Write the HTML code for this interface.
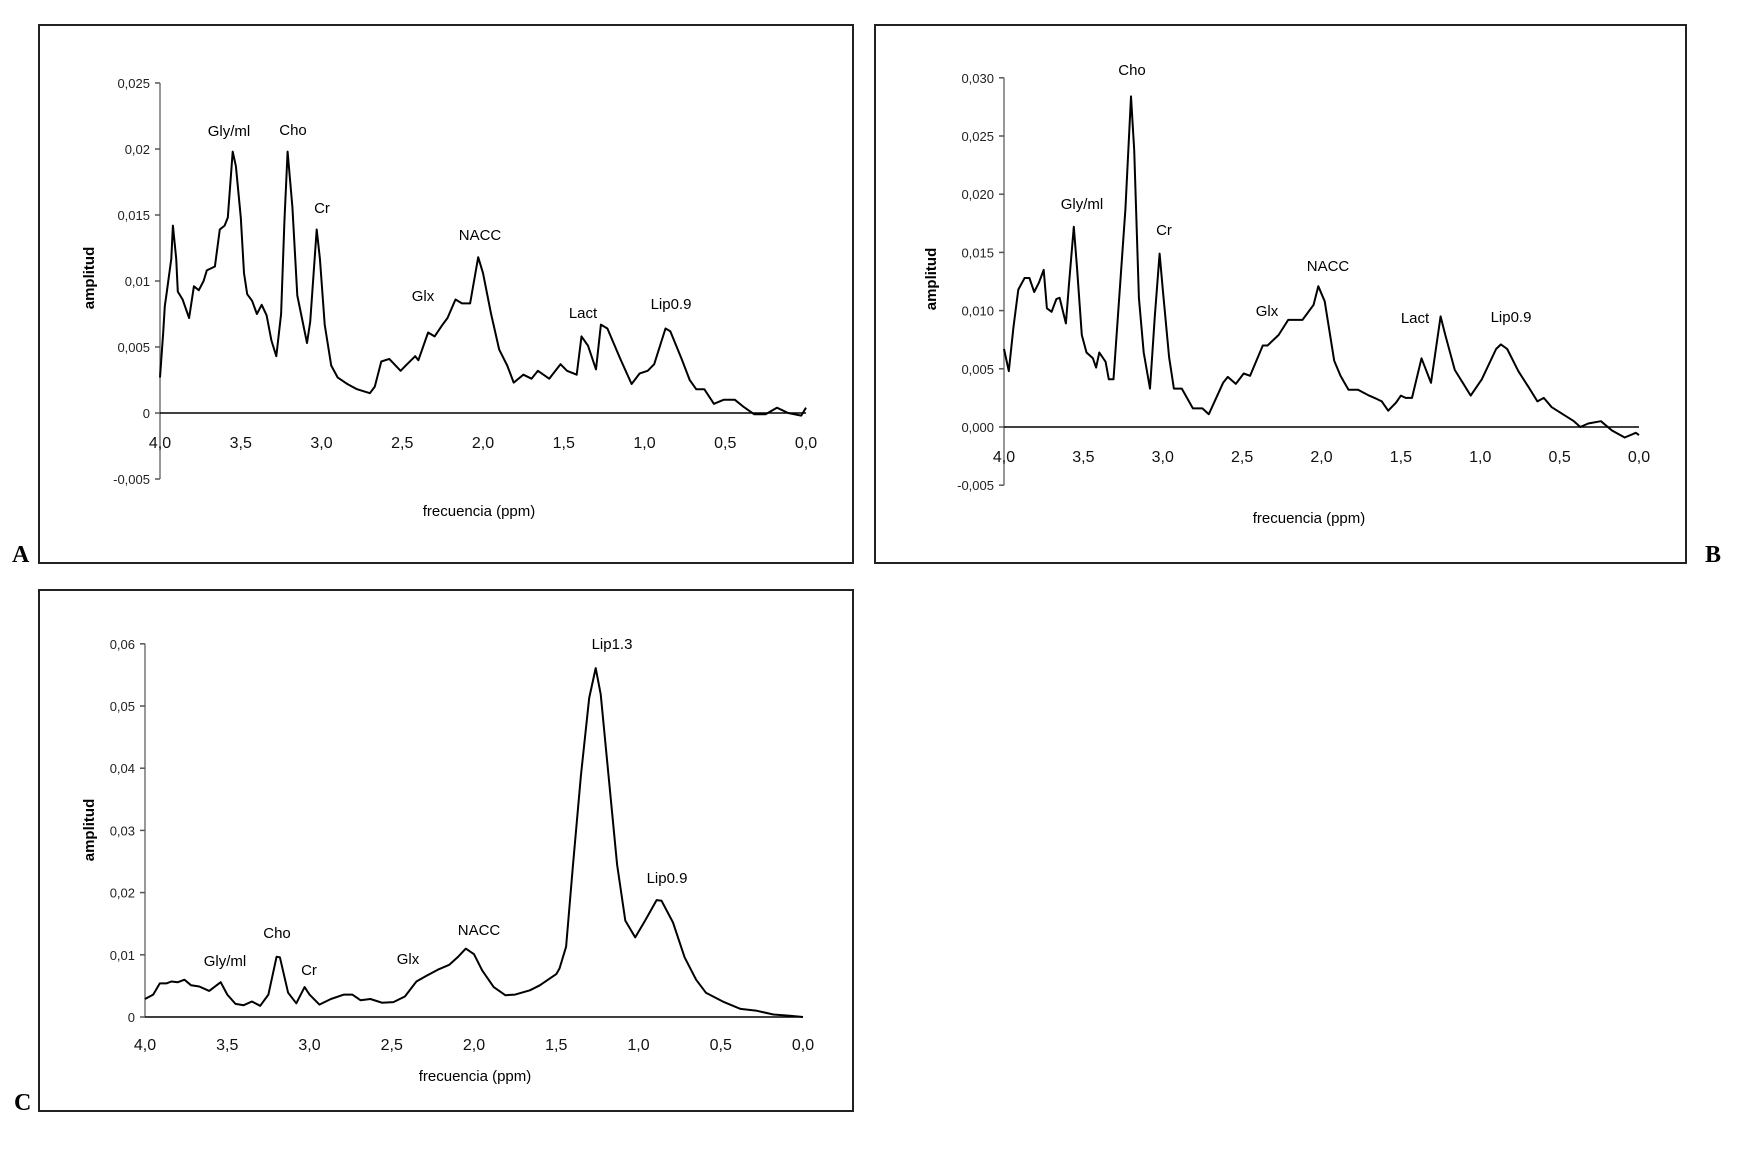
<!DOCTYPE html>
<html><head><meta charset="utf-8"><style>
body{margin:0;background:#fff;}
svg text{font-family:"Liberation Sans",Arial,sans-serif;}
</style></head><body>
<svg id="s" width="1738" height="1147" viewBox="0 0 1738 1147" xmlns="http://www.w3.org/2000/svg">
<rect width="1738" height="1147" fill="#fff"/>
</svg>
<script>
// Panel A data
const ppmA=[4.0,3.98,3.97,3.96,3.93,3.92,3.90,3.89,3.86,3.82,3.79,3.76,3.73,3.71,3.66,3.63,3.60,3.58,3.55,3.53,3.50,3.48,3.46,3.43,3.40,3.37,3.34,3.31,3.28,3.25,3.23,3.21,3.18,3.15,3.09,3.07,3.03,3.01,2.98,2.94,2.90,2.84,2.78,2.70,2.67,2.63,2.58,2.51,2.47,2.42,2.40,2.34,2.30,2.25,2.22,2.17,2.13,2.08,2.03,2.00,1.95,1.90,1.85,1.81,1.75,1.70,1.66,1.59,1.52,1.48,1.42,1.39,1.35,1.30,1.27,1.23,1.15,1.08,1.03,0.98,0.94,0.87,0.84,0.77,0.72,0.68,0.63,0.57,0.51,0.44,0.39,0.32,0.25,0.18,0.11,0.03,0.0];
const ampA=[0.0027,0.0061,0.0081,0.009,0.0117,0.0142,0.0117,0.0092,0.0086,0.0072,0.0096,0.0093,0.010,0.0108,0.0111,0.0139,0.0142,0.0148,0.0198,0.0187,0.0148,0.0106,0.009,0.0085,0.0075,0.0082,0.0074,0.0055,0.0043,0.0075,0.0145,0.0198,0.0156,0.0089,0.0053,0.0069,0.0139,0.0117,0.0067,0.0036,0.0027,0.0022,0.0018,0.0015,0.002,0.0039,0.0041,0.0032,0.0037,0.0043,0.004,0.0061,0.0058,0.0067,0.0072,0.0086,0.0083,0.0083,0.0118,0.0106,0.0075,0.0048,0.0036,0.0023,0.0029,0.0026,0.0032,0.0026,0.0037,0.0032,0.0029,0.0058,0.0051,0.0033,0.0067,0.0064,0.0041,0.0022,0.003,0.0032,0.0037,0.0064,0.0062,0.0041,0.0025,0.0018,0.0018,0.0007,0.001,0.001,0.0005,-0.0001,-0.0001,0.0004,0,-0.0002,0.0004];
const yTicksA=[0.025,0.02,0.015,0.01,0.005,0,-0.005];
const yLabelsA=["0,025","0,02","0,015","0,01","0,005","0","-0,005"];
// Panel B data
const ppmB=[4.0,3.97,3.94,3.91,3.87,3.84,3.81,3.78,3.75,3.73,3.70,3.67,3.65,3.61,3.59,3.56,3.54,3.51,3.48,3.44,3.42,3.40,3.36,3.34,3.31,3.235,3.20,3.18,3.15,3.12,3.08,3.05,3.02,3.00,2.96,2.93,2.88,2.81,2.75,2.71,2.62,2.59,2.54,2.49,2.45,2.37,2.34,2.27,2.21,2.12,2.05,2.02,1.98,1.92,1.88,1.83,1.77,1.70,1.65,1.62,1.58,1.53,1.50,1.47,1.43,1.37,1.31,1.25,1.22,1.16,1.11,1.06,0.99,0.90,0.87,0.83,0.76,0.69,0.64,0.60,0.55,0.48,0.41,0.37,0.32,0.24,0.17,0.09,0.02,0.0];
const ampB=[0.0067,0.0048,0.0086,0.0118,0.0128,0.0128,0.0116,0.0124,0.0135,0.0102,0.0099,0.011,0.0111,0.0089,0.0124,0.0172,0.0137,0.0079,0.0064,0.0059,0.0051,0.0064,0.0056,0.0041,0.0041,0.0187,0.0284,0.0238,0.0111,0.0064,0.0033,0.0095,0.0149,0.0118,0.006,0.0033,0.0033,0.0016,0.0016,0.0011,0.0038,0.0043,0.0037,0.0046,0.0044,0.007,0.007,0.0079,0.0092,0.0092,0.0105,0.0121,0.0108,0.0057,0.0044,0.0032,0.0032,0.0027,0.0024,0.0022,0.0014,0.0021,0.0027,0.0025,0.0025,0.0059,0.0038,0.0095,0.0079,0.0049,0.0038,0.0027,0.0041,0.0067,0.0071,0.0067,0.0048,0.0033,0.0022,0.0025,0.0017,0.0011,0.0005,0,0.0003,0.0005,-0.0003,-0.0009,-0.0005,-0.0007];
const yTicksB=[0.03,0.025,0.02,0.015,0.01,0.005,0,-0.005];
const yLabelsB=["0,030","0,025","0,020","0,015","0,010","0,005","0,000","-0,005"];
// Panel C data
const ppmC=[4.0,3.95,3.91,3.87,3.84,3.80,3.76,3.72,3.67,3.61,3.54,3.50,3.45,3.40,3.35,3.30,3.25,3.20,3.18,3.13,3.08,3.03,3.00,2.94,2.87,2.79,2.74,2.69,2.63,2.56,2.49,2.42,2.35,2.29,2.22,2.15,2.10,2.05,2.00,1.95,1.88,1.81,1.75,1.66,1.60,1.50,1.48,1.44,1.40,1.35,1.30,1.26,1.23,1.18,1.13,1.08,1.02,0.96,0.89,0.86,0.79,0.72,0.65,0.59,0.48,0.38,0.28,0.18,0.08,0.0];
const ampC=[0.0029,0.0036,0.0054,0.0054,0.0057,0.0056,0.006,0.0051,0.0049,0.0042,0.0056,0.0036,0.0021,0.0019,0.0025,0.0018,0.0036,0.0097,0.0096,0.0039,0.0022,0.0048,0.0036,0.002,0.0029,0.0036,0.0036,0.0027,0.0029,0.0023,0.0024,0.0033,0.0057,0.0066,0.0076,0.0084,0.0096,0.011,0.0101,0.0075,0.0048,0.0035,0.0036,0.0043,0.0051,0.0069,0.0078,0.0113,0.0239,0.0388,0.0513,0.0561,0.0519,0.0382,0.0245,0.0155,0.0128,0.0155,0.0188,0.0187,0.0152,0.0096,0.006,0.0039,0.0024,0.0013,0.001,0.0004,0.0002,0];
const yTicksC=[0.06,0.05,0.04,0.03,0.02,0.01,0];
const yLabelsC=["0,06","0,05","0,04","0,03","0,02","0,01","0"];
const xTicks=[4,3.5,3,2.5,2,1.5,1,0.5,0];
const xLabels=["4,0","3,5","3,0","2,5","2,0","1,5","1,0","0,5","0,0"];

const NS="http://www.w3.org/2000/svg";
const svg=document.getElementById('s');
function mk(tag,attrs,parent,text){const e=document.createElementNS(NS,tag);for(const k in attrs)e.setAttribute(k,attrs[k]);if(text!==undefined)e.textContent=text;(parent||svg).appendChild(e);return e;}

function panel(cfg){
  const g=mk('g',{});
  
  
  const fr=mk('rect',{x:cfg.box[0],y:cfg.box[1],width:cfg.box[2]-cfg.box[0],height:cfg.box[3]-cfg.box[1],fill:'none',stroke:'#222','stroke-width':2},g);
  
  
  const pl=mk('text',{x:cfg.letter[0],y:cfg.letter[1],'font-size':24,'font-weight':'bold',style:'font-family:"Liberation Serif",serif'},g,cfg.id.toUpperCase());
  
  
  const X=v=>cfg.x0+(4-v)/4*(cfg.x1-cfg.x0);
  const Y=v=>cfg.yZero-v/cfg.yStep*cfg.yStepPx;
  const yMin=Math.min(...cfg.yTicks),yMax=Math.max(...cfg.yTicks);
  const ya=mk('line',{x1:cfg.x0,x2:cfg.x0,y1:Y(yMax),y2:Y(yMin),stroke:'#777','stroke-width':1.5},g);
  
  
  cfg.yTicks.forEach((t,i)=>{
    mk('line',{x1:cfg.x0-5,x2:cfg.x0,y1:Y(t),y2:Y(t),stroke:'#555','stroke-width':1.5},g);
    const tl=mk('text',{x:cfg.x0-10,y:Y(t)+5,'font-size':13,'text-anchor':'end',fill:'#222'},g,cfg.yLabels[i]);
    
    
  });
  const xa=mk('line',{x1:cfg.x0,x2:X(0),y1:Y(0),y2:Y(0),stroke:'#000','stroke-width':1.5},g);
  
  
  xTicks.forEach((t,i)=>{
    const tl=mk('text',{x:X(t),y:cfg.xLabY,'font-size':16,'text-anchor':'middle',fill:'#111'},g,xLabels[i]);
    
    
  });
  const xt=mk('text',{x:cfg.xTitle[0],y:cfg.xTitle[1],'font-size':15,'text-anchor':'middle'},g,'frecuencia (ppm)');
  
  
  const yt=mk('text',{x:cfg.yTitle[0],y:cfg.yTitle[1],'font-size':15,'font-weight':'bold','text-anchor':'middle',transform:`rotate(-90 ${cfg.yTitle[0]} ${cfg.yTitle[1]})`},g,'amplitud');
  
  
  const d=cfg.ppm.map((p,i)=>(i?'L':'M')+X(p).toFixed(1)+','+Y(cfg.amp[i]).toFixed(1)).join('');
  const ln=mk('path',{d:d,fill:'none',stroke:'#000','stroke-width':2,'stroke-linejoin':'round'},g);
  
  
  cfg.peaks.forEach(pk=>{
    const t=mk('text',{x:pk[1],y:pk[2],'font-size':15,'text-anchor':'middle'},g,pk[0]);
    
    
  });
}

panel({id:'a',box:[39,25,853,563],letter:[12,562],x0:160,x1:806,yZero:413,yStep:0.005,yStepPx:66,yTicks:yTicksA,yLabels:yLabelsA,xLabY:448,xTitle:[479,516],yTitle:[94,278],ppm:ppmA,amp:ampA,
  peaks:[['Gly/ml',229,136],['Cho',293,135],['Cr',322,213],['Glx',423,301],['NACC',480,240],['Lact',583,318],['Lip0.9',671,309]]});
panel({id:'b',box:[875,25,1686,563],letter:[1705,562],x0:1004,x1:1639,yZero:427,yStep:0.005,yStepPx:58.2,yTicks:yTicksB,yLabels:yLabelsB,xLabY:462,xTitle:[1309,523],yTitle:[936,279],ppm:ppmB,amp:ampB,
  peaks:[['Cho',1132,75],['Gly/ml',1082,209],['Cr',1164,235],['Glx',1267,316],['NACC',1328,271],['Lact',1415,323],['Lip0.9',1511,322]]});
panel({id:'c',box:[39,590,853,1111],letter:[14,1110],x0:145,x1:803,yZero:1017,yStep:0.01,yStepPx:62.2,yTicks:yTicksC,yLabels:yLabelsC,xLabY:1050,xTitle:[475,1081],yTitle:[94,830],ppm:ppmC,amp:ampC,
  peaks:[['Lip1.3',612,649],['Lip0.9',667,883],['Cho',277,938],['Gly/ml',225,966],['Cr',309,975],['Glx',408,964],['NACC',479,935]]});
</script>
</body></html>
